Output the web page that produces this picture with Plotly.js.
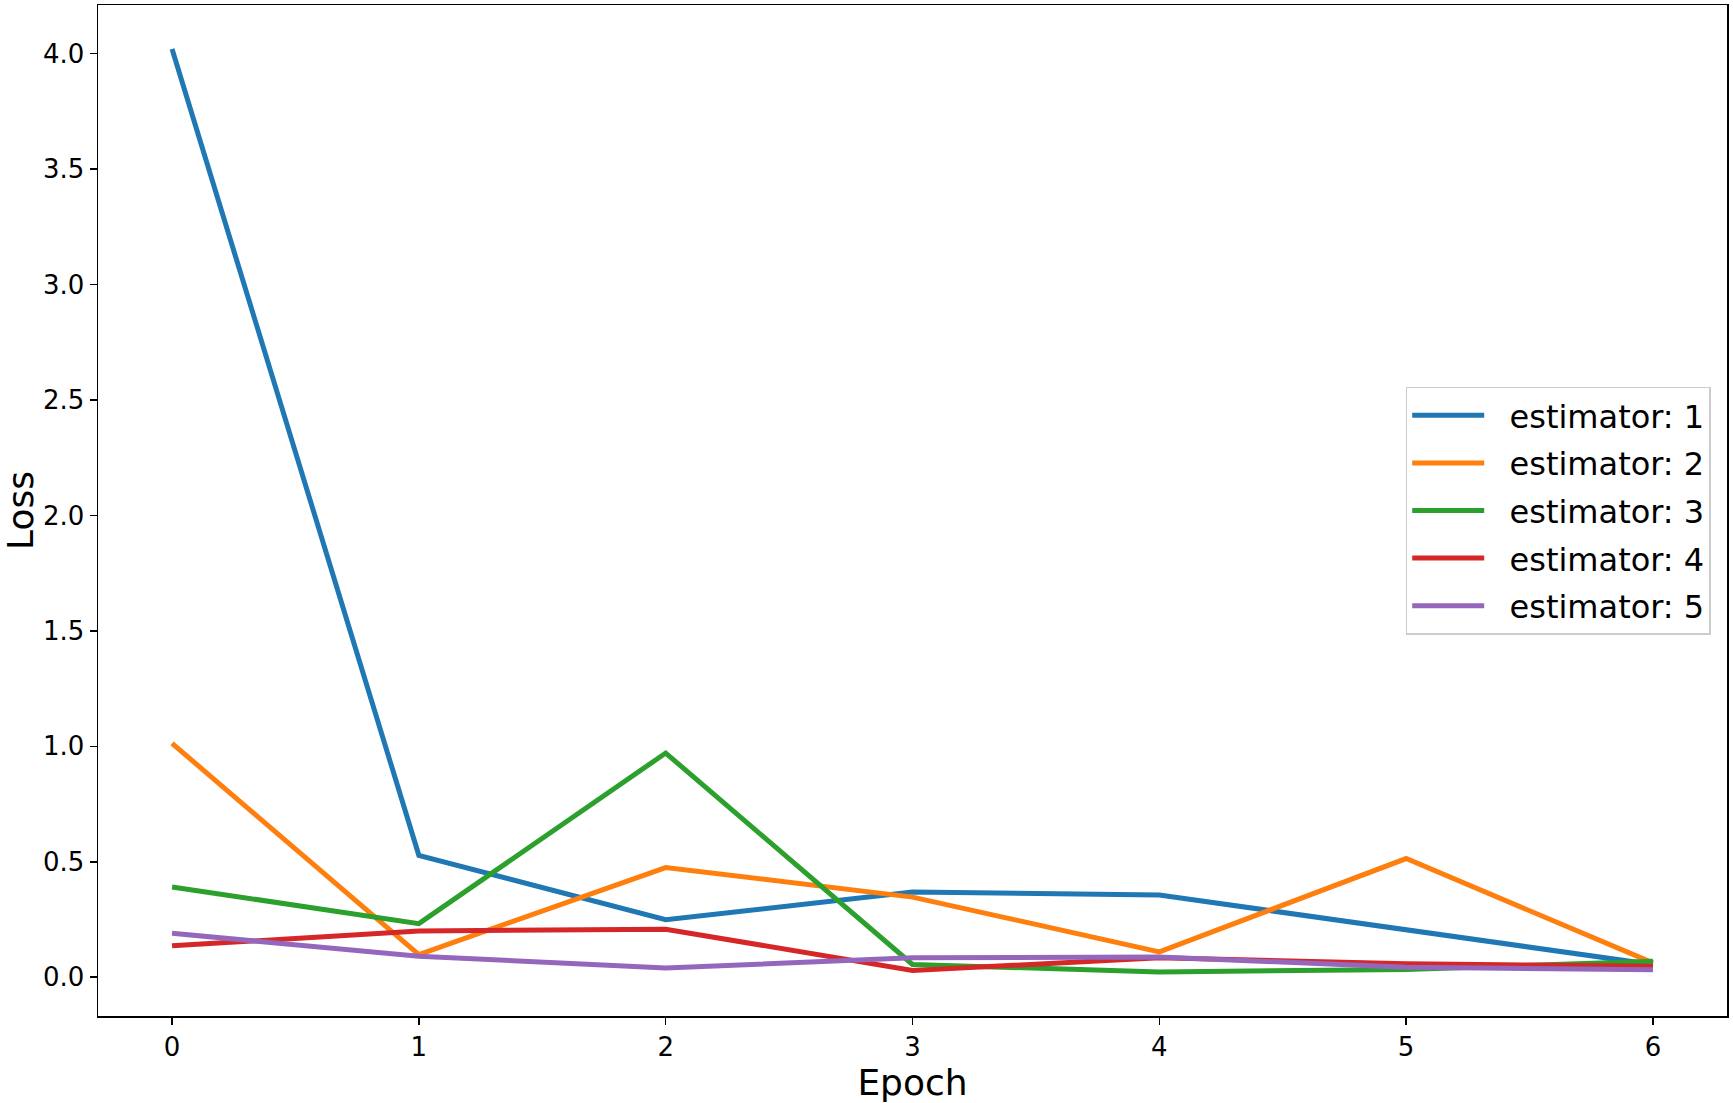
<!DOCTYPE html>
<html>
<head>
<meta charset="utf-8">
<script src="https://cdn.plot.ly/plotly-3.0.1.min.js"></script>
<style>html,body{margin:0;padding:0;background:#fff;}#chart{width:1733px;height:1103px;}</style>
</head>
<body>
<div id="chart"></div>
<script>
const epochs = [0, 1, 2, 3, 4, 5, 6];
const seriesNames = ["estimator: 1", "estimator: 2", "estimator: 3", "estimator: 4", "estimator: 5"];
const est1 = [4.02, 0.528, 0.249, 0.369, 0.356, 0.207, 0.055];
const est2 = [1.013, 0.098, 0.475, 0.347, 0.110, 0.514, 0.062];
const est3 = [0.391, 0.232, 0.971, 0.055, 0.023, 0.033, 0.069];
const est4 = [0.136, 0.200, 0.208, 0.029, 0.084, 0.058, 0.048];
const est5 = [0.190, 0.091, 0.040, 0.084, 0.088, 0.043, 0.032];
const colors = ["#1f77b4", "#ff7f0e", "#2ca02c", "#d62728", "#9467bd"];
const allSeries = [est1, est2, est3, est4, est5];

const font = "DejaVu Sans, sans-serif";
const traces = allSeries.map((ys, i) => ({
  x: epochs, y: ys, type: "scatter", mode: "lines",
  name: "\u00A0\u00A0" + seriesNames[i], legendgroup: "g" + i,
  line: {color: colors[i], width: 5}
}));

const layout = {
  width: 1733, height: 1103,
  margin: {l: 98, r: 6, t: 5, b: 87},
  paper_bgcolor: "#fff", plot_bgcolor: "#fff",
  font: {family: font, color: "#000"},
  showlegend: true,
  legend: {
    x: 0.990, xanchor: "right", y: 0.5, yanchor: "middle",
    bgcolor: "rgba(255,255,255,0.8)", bordercolor: "#cccccc", borderwidth: 1.5,
    font: {family: font, size: 32, color: "#000"},
    traceorder: "grouped", tracegroupgap: 3, itemwidth: 72
  },
  xaxis: {
    range: [-0.3, 6.3], tickvals: epochs, ticktext: epochs.map(String),
    showgrid: false, zeroline: false, showline: true, mirror: true,
    linecolor: "#000", linewidth: 1.5,
    ticks: "outside", ticklen: 7, tickwidth: 1.5, tickcolor: "#000",
    tickfont: {family: font, size: 26, color: "#000"},
    title: {text: "Epoch", font: {family: font, size: 36, color: "#000"}, standoff: 2}
  },
  yaxis: {
    range: [-0.168, 4.211], tickvals: [0, 0.5, 1, 1.5, 2, 2.5, 3, 3.5, 4],
    ticktext: ["0.0", "0.5", "1.0", "1.5", "2.0", "2.5", "3.0", "3.5", "4.0"],
    showgrid: false, zeroline: false, showline: true, mirror: true,
    linecolor: "#000", linewidth: 1.5,
    ticks: "outside", ticklen: 7, tickwidth: 1.5, tickcolor: "#000",
    tickfont: {family: font, size: 26, color: "#000"},
    title: {text: "Loss", font: {family: font, size: 36, color: "#000"}, standoff: 10}
  }
};

Plotly.newPlot("chart", traces, layout, {displayModeBar: false, staticPlot: true});
</script>
</body>
</html>
